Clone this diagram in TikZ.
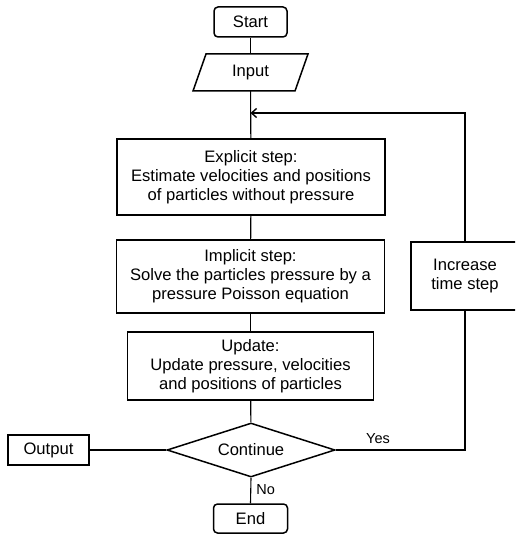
\documentclass[tikz,border=0pt]{standalone}
\usepackage{fontspec}
\setmainfont{Liberation Sans}
\usetikzlibrary{shapes.geometric,arrows.meta}
\begin{document}
\begin{tikzpicture}[x=1pt,y=-1pt,
  every node/.style={font=\fontsize{16.6}{19}\selectfont, align=center, inner sep=0pt},
  box/.style={draw, line width=1.5pt, rectangle},
  term/.style={draw, line width=1.5pt, rectangle, rounded corners=4pt},
  conn/.style={line width=1.1pt},
  lbl/.style={font=\fontsize{14.5}{17}\selectfont}]
\useasboundingbox (0,0) rectangle (515,534);
\clip (0,0) rectangle (515,534);
\node[term, minimum width=73pt, minimum height=30pt] (start) at (250.5,22) {Start};
\draw[line width=1.5pt] (193,91) -- (206,54) -- (308,54) -- (295,91) -- cycle;
\node[minimum width=90pt, minimum height=37pt] (input) at (250.5,72.5) {Input};
\node[box, minimum width=268pt, minimum height=76pt] (explicit) at (251,177) {Explicit step:\\Estimate velocities and positions\\of particles without pressure};
\node[box, minimum width=268pt, minimum height=73pt] (implicit) at (250.5,276.5) {Implicit step:\\Solve the particles pressure by a\\pressure Poisson equation};
\node[box, minimum width=246pt, minimum height=68pt] (update) at (250.5,366) {Update:\\Update pressure, velocities\\and positions of particles};
\node[draw, line width=1.5pt, diamond, aspect=3.11, minimum width=168pt, minimum height=54pt] (cont) at (251,450) {Continue};
\node[box, minimum width=81pt, minimum height=30pt] (output) at (48.5,450) {Output};
\node[term, minimum width=74pt, minimum height=29pt] (end) at (250.5,518.5) {End};
\node[minimum width=108pt, minimum height=68pt] (inc) at (465,276) {Increase\\time step};
\draw[line width=1.5pt] ([xshift=20pt]inc.north east) -- (inc.north west) -- (inc.south west) -- ([xshift=20pt]inc.south east);
\coordinate (loop) at (250.5,113);
\coordinate (rb) at (465,450);
\coordinate (rt) at (465,113);
\draw[conn] (start) -- (input);
\draw[conn] (input) -- (explicit);
\draw[conn] (explicit) -- (implicit);
\draw[conn] (implicit) -- (update);
\draw[conn] (update) -- (cont);
\draw[conn] (cont.west) -- (output.east);
\draw[conn] (cont.south) -- (end.north) node[lbl, pos=0.45, right=5pt] {No};
\draw[conn] (cont.east) -- (rb) -- (inc.south);
\draw[conn, -{Straight Barb[length=5pt,width=9pt,line width=1.4pt]}] (inc.north) -- (rt) -- (loop);
\node[lbl] (yes) at (378,439) {Yes};
\end{tikzpicture}
\end{document}
